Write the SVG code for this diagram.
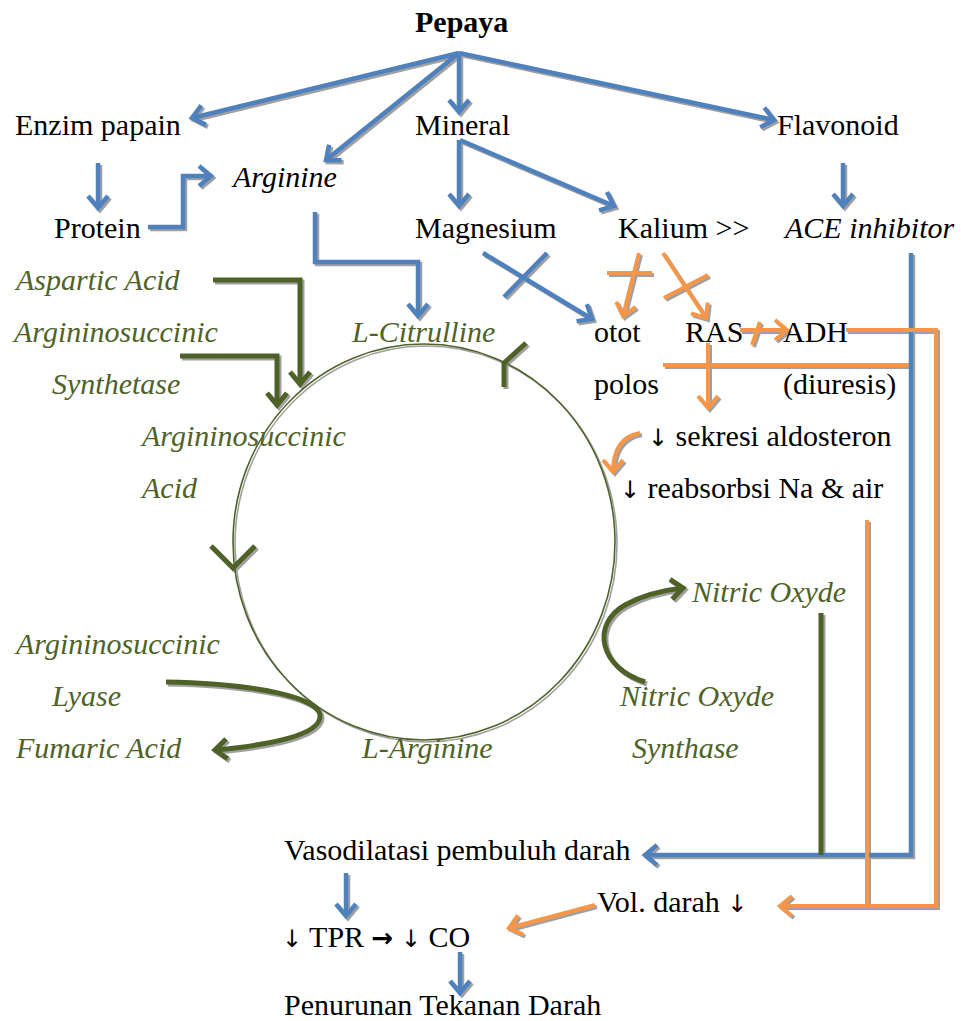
<svg xmlns="http://www.w3.org/2000/svg" width="961" height="1021" viewBox="0 0 961 1021">
<style>
text{font-family:"Liberation Serif","Times New Roman",serif;font-size:30px;fill:#000}
.b{font-weight:bold}
.i{font-style:italic}
.g{fill:#4F6228;font-style:italic}
.ar{font-family:"DejaVu Sans",sans-serif;font-size:24px}
.ab{font-family:"DejaVu Sans",sans-serif;font-size:26px;font-weight:bold}
.lb{fill:none;stroke:#4F81BD;stroke-width:4.5}
.lo{fill:none;stroke:#F79646;stroke-width:4}
.lg{fill:none;stroke:#4F6228;stroke-width:5}
.lgt{fill:none;stroke:#4F6228;stroke-width:1.6}
</style>
<defs>
<filter id="sh" x="-5%" y="-5%" width="110%" height="110%">
<feDropShadow dx="2" dy="2" stdDeviation="0.6" flood-color="#888" flood-opacity="0.8"/>
</filter>
<marker id="mb" markerUnits="userSpaceOnUse" markerWidth="30" markerHeight="30" refX="0" refY="0" orient="auto" overflow="visible">
<path d="M-12,-10 L0,0 L-12,10" fill="none" stroke="#4F81BD" stroke-width="4.5"/>
</marker>
<marker id="mo" markerUnits="userSpaceOnUse" markerWidth="30" markerHeight="30" refX="0" refY="0" orient="auto" overflow="visible">
<path d="M-12,-10 L0,0 L-12,10" fill="none" stroke="#F79646" stroke-width="4"/>
</marker>
<marker id="mg" markerUnits="userSpaceOnUse" markerWidth="30" markerHeight="30" refX="0" refY="0" orient="auto" overflow="visible">
<path d="M-12,-10 L0,0 L-12,10" fill="none" stroke="#4F6228" stroke-width="5"/>
</marker>
</defs>

<g id="connectors" filter="url(#sh)">
<!-- cycle -->
<ellipse class="lgt" cx="424" cy="542" rx="191" ry="198"/>
<path class="lg" d="M504,387 L504,363 L526,343"/>
<path class="lg" d="M211,546 L233,568 L255,546"/>
<!-- Pepaya -->
<line class="lb" x1="459" y1="53" x2="192" y2="118" marker-end="url(#mb)"/>
<line class="lb" x1="459" y1="53" x2="326" y2="160" marker-end="url(#mb)"/>
<line class="lb" x1="459" y1="53" x2="459" y2="112" marker-end="url(#mb)"/>
<line class="lb" x1="459" y1="53" x2="774" y2="120" marker-end="url(#mb)"/>
<line class="lb" x1="98" y1="163" x2="98" y2="208" marker-end="url(#mb)"/>
<line class="lb" x1="843" y1="163" x2="843" y2="206" marker-end="url(#mb)"/>
<path class="lb" d="M148,227 L183,227 L183,176 L211,176" marker-end="url(#mb)"/>
<line class="lb" x1="459" y1="140" x2="459" y2="206" marker-end="url(#mb)"/>
<line class="lb" x1="460" y1="140" x2="614" y2="206" marker-end="url(#mb)"/>
<path class="lb" d="M315,212 L315,262 L418,262 L418,316" marker-end="url(#mb)"/>
<line class="lb" x1="483" y1="253" x2="592" y2="319" marker-end="url(#mb)"/>
<line class="lb" x1="504" y1="297" x2="547" y2="253"/>
<!-- orange top -->
<line class="lo" x1="639" y1="253" x2="623" y2="316" marker-end="url(#mo)"/>
<line class="lo" x1="607" y1="273" x2="652" y2="273"/>
<line class="lo" x1="663" y1="253" x2="706" y2="318" marker-end="url(#mo)"/>
<line class="lo" x1="664" y1="298" x2="708" y2="275"/>
<line class="lo" x1="740" y1="330" x2="787" y2="330" marker-end="url(#mo)"/>
<line class="lo" x1="760" y1="322" x2="752" y2="345"/>
<line class="lo" x1="663" y1="365" x2="911" y2="365"/>
<line class="lo" x1="708" y1="343" x2="708" y2="408" marker-end="url(#mo)"/>
<path class="lo" d="M640,433 Q613,438 613,472" marker-end="url(#mo)"/>
<!-- right side verticals -->
<path class="lb" d="M911,253 L911,855 L645,855" marker-end="url(#mb)"/>
<line class="lg" x1="821" y1="613" x2="821" y2="855"/>
<path class="lo" d="M846,330 L936,330 L936,906 L780,906" marker-end="url(#mo)"/>
<line class="lo" x1="867" y1="520" x2="867" y2="906"/>
<!-- green -->
<path class="lg" d="M213,280 L300,280 L300,384" marker-end="url(#mg)"/>
<path class="lg" d="M180,356 L277,356 L277,405" marker-end="url(#mg)"/>
<path class="lg" d="M166,682 C260,684 318,698 320,715 C322,735 270,745 215,750" marker-end="url(#mg)"/>
<path class="lg" d="M645,682 C600,668 590,625 625,605 C645,594 665,590 683,588" marker-end="url(#mg)"/>
<!-- bottom -->
<line class="lb" x1="346" y1="873" x2="346" y2="916" marker-end="url(#mb)"/>
<line class="lo" x1="595" y1="905" x2="509" y2="928" marker-end="url(#mo)"/>
<line class="lb" x1="460" y1="952" x2="460" y2="993" marker-end="url(#mb)"/>
</g>

<g id="n-pepaya"><text class="b" x="415" y="32">Pepaya</text></g>
<g id="n-enzim"><text x="15" y="135">Enzim papain</text></g>
<g id="n-mineral"><text x="415" y="135">Mineral</text></g>
<g id="n-flavonoid"><text x="777" y="135">Flavonoid</text></g>
<g id="n-arginine"><text class="i" x="233" y="187">Arginine</text></g>
<g id="n-protein"><text x="54" y="238">Protein</text></g>
<g id="n-magnesium"><text x="415" y="238">Magnesium</text></g>
<g id="n-kalium"><text x="618" y="238">Kalium &gt;&gt;</text></g>
<g id="n-ace"><text class="i" x="785" y="238">ACE inhibitor</text></g>
<g id="n-aspartic"><text class="g" x="16" y="290">Aspartic Acid</text></g>
<g id="n-ass"><text class="g" x="14" y="342">Argininosuccinic</text><text class="g" x="52" y="394">Synthetase</text></g>
<g id="n-citrulline"><text class="g" x="352" y="342">L-Citrulline</text></g>
<g id="n-otot"><text x="594" y="342">otot</text><text x="594" y="394">polos</text></g>
<g id="n-ras"><text x="685" y="342">RAS</text></g>
<g id="n-adh"><text x="783" y="342">ADH</text><text x="783" y="394">(diuresis)</text></g>
<g id="n-asa"><text class="g" x="142" y="446">Argininosuccinic</text><text class="g" x="142" y="498">Acid</text></g>
<g id="n-aldosteron"><text x="648" y="446"><tspan class="ar">↓</tspan> sekresi aldosteron</text></g>
<g id="n-reabsorbsi"><text x="620" y="498"><tspan class="ar">↓</tspan> reabsorbsi Na &amp; air</text></g>
<g id="n-no"><text class="g" x="692" y="602">Nitric Oxyde</text></g>
<g id="n-asl"><text class="g" x="16" y="654">Argininosuccinic</text><text class="g" x="52" y="706">Lyase</text></g>
<g id="n-nos"><text class="g" x="620" y="706">Nitric Oxyde</text><text class="g" x="632" y="758">Synthase</text></g>
<g id="n-fumaric"><text class="g" x="16" y="758">Fumaric Acid</text></g>
<g id="n-larginine"><text class="g" x="362" y="758">L-Arginine</text></g>
<g id="n-vaso"><text x="284" y="860">Vasodilatasi pembuluh darah</text></g>
<g id="n-vol"><text x="597" y="912">Vol. darah <tspan class="ar">↓</tspan></text></g>
<g id="n-tpr"><text x="282" y="947"><tspan class="ar">↓</tspan> TPR <tspan class="ab">→</tspan> <tspan class="ar">↓</tspan> CO</text></g>
<g id="n-penurunan"><text x="284" y="1015">Penurunan Tekanan Darah</text></g>
</svg>
